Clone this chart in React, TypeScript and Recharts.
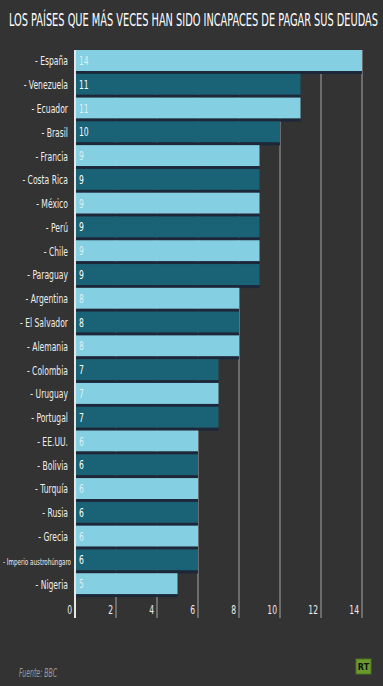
import { BarChart, Bar, XAxis, YAxis, CartesianGrid, Cell, LabelList } from 'recharts';

const countries = [
  '- España', '- Venezuela', '- Ecuador', '- Brasil', '- Francia', '- Costa Rica', '- México',
  '- Perú', '- Chile', '- Paraguay', '- Argentina', '- El Salvador', '- Alemania', '- Colombia',
  '- Uruguay', '- Portugal', '- EE.UU.', '- Bolivia', '- Turquía', '- Rusia', '- Grecia',
  '- Imperio austrohúngaro', '- Nigeria',
];
const defaults = [14, 11, 11, 10, 9, 9, 9, 9, 9, 9, 8, 8, 8, 7, 7, 7, 6, 6, 6, 6, 6, 6, 5];
const xTicks = [0, 2, 4, 6, 8, 10, 12, 14];

const BG = '#333333';
const LIGHT = '#84cfe2';
const DARK = '#1a6276';
const SHADOW = '#1c283a';
const FONT = "'DejaVu Sans Condensed', 'Liberation Sans Narrow', 'Roboto', sans-serif";
const SQUEEZE = 0.68; // the original uses a condensed face

const data = countries.map((name, i) => ({ name, value: defaults[i] }));

// bar with a thin dark strip underneath, like the original
function ShadowBar(props: any) {
  const { x, y, width, height, fill } = props;
  const s = 3;
  return (
    <g>
      <rect x={x} y={y} width={width} height={height - s} fill={fill} />
      <rect x={x} y={y + height - s} width={width} height={s} fill={SHADOW} />
    </g>
  );
}

function CountryTick(props: any) {
  const { y, payload } = props;
  const label: string = payload.value;
  const long = label.length > 14;
  return (
    <g transform={`translate(${long ? 71 : 68}, ${y + 3.5}) scale(${SQUEEZE}, 1)`}>
      <text
        x={0}
        y={0}
        textAnchor="end"
        fill="#eeeeee"
        fontSize={long ? 9.5 : 12.5}
        fontFamily={FONT}
        textLength={long ? 68 / SQUEEZE : undefined}
        lengthAdjust="spacingAndGlyphs"
      >
        {label}
      </text>
    </g>
  );
}

function ValueTick(props: any) {
  const { x, y, payload } = props;
  const zero = payload.value === 0;
  return (
    <g>
      <line x1={x} x2={x} y1={y} y2={y + 21} stroke={zero ? '#e6e6e6' : '#6c6c6c'} strokeWidth={2} />
      <g transform={`translate(${x - 3}, ${y + 17}) scale(${SQUEEZE}, 1)`}>
        <text x={0} y={0} textAnchor="end" fill="#eeeeee" fontSize={12.5} fontFamily={FONT}>
          {payload.value}
        </text>
      </g>
    </g>
  );
}

function ValueLabel(props: any) {
  const { x, y, height, value, index } = props;
  return (
    <g transform={`translate(${x + 4}, ${y + (height - 3) / 2 + 4.5}) scale(${SQUEEZE}, 1)`}>
      <text x={0} y={0} fill={index % 2 === 0 ? '#d9f1f7' : '#ffffff'} fontSize={12.5} fontFamily={FONT}>
        {value}
      </text>
    </g>
  );
}

export default function App() {
  return (
    <div style={{ position: 'absolute', left: 0, top: 0, width: 383, height: 686, background: BG }}>
      <svg width={383} height={686} style={{ position: 'absolute', left: 0, top: 0 }}>
        <g transform="translate(9, 25.5) scale(0.62, 1)">
          <text x={0} y={0} fill="#ffffff" fontSize={17} fontFamily={FONT} textLength={369 / 0.62} lengthAdjust="spacingAndGlyphs">
            LOS PAÍSES QUE MÁS VECES HAN SIDO INCAPACES DE PAGAR SUS DEUDAS
          </text>
        </g>
        <g transform="translate(19, 676.5) scale(0.62, 1)">
          <text x={0} y={0} fill="#9a9a9a" fontSize={13} fontStyle="italic" fontFamily={FONT} textLength={38 / 0.62} lengthAdjust="spacingAndGlyphs">
            Fuente: BBC
          </text>
        </g>
        <rect x={356} y={659} width={15} height={15} fill="#6b9a2c" stroke="#4d7420" strokeWidth={1} />
        <text x={363.5} y={670} textAnchor="middle" fill="#111111" fontSize={8} fontWeight="bold" fontFamily="'DejaVu Sans', sans-serif">
          RT
        </text>
      </svg>
      <div style={{ position: 'absolute', left: 0, top: 0 }}>
        <BarChart
          width={383}
          height={686}
          data={data}
          layout="vertical"
          margin={{ top: 50, right: 21, bottom: 59, left: 0 }}
          barCategoryGap={0}
        >
          <CartesianGrid horizontal={false} stroke="#6c6c6c" strokeWidth={2} />
          <XAxis
            type="number"
            domain={[0, 14]}
            ticks={xTicks}
            axisLine={false}
            tickLine={false}
            tickSize={0}
            tickMargin={0}
            tick={<ValueTick />}
            interval={0}
          />
          <YAxis
            type="category"
            dataKey="name"
            width={75}
            axisLine={{ stroke: '#e6e6e6', strokeWidth: 2 }}
            tickLine={false}
            tick={<CountryTick />}
            interval={0}
          />
          <Bar dataKey="value" isAnimationActive={false} shape={<ShadowBar />}>
            {data.map((d, i) => (
              <Cell key={d.name} fill={i % 2 === 0 ? LIGHT : DARK} />
            ))}
            <LabelList dataKey="value" content={<ValueLabel />} />
          </Bar>
        </BarChart>
      </div>
    </div>
  );
}
